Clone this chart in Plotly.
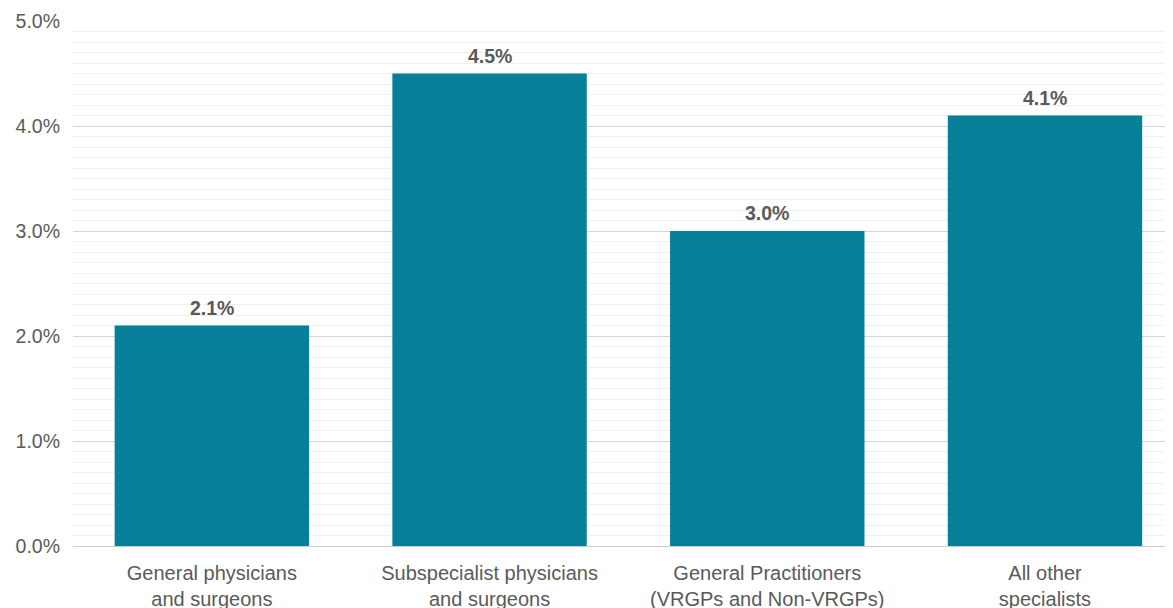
import plotly.graph_objects as go

categories = ["General physicians<br>and surgeons",
              "Subspecialist physicians<br>and surgeons",
              "General Practitioners<br>(VRGPs and Non-VRGPs)",
              "All other<br>specialists"]
values = [2.1, 4.5, 3.0, 4.1]
y_ticks = [0, 1, 2, 3, 4, 5]
y_tick_labels = ["0.0%", "1.0%", "2.0%", "3.0%", "4.0%", "5.0%"]

BAR = "#067f98"
TXT = "#5a5a5a"
FONT = "Liberation Sans, Arial, Helvetica, sans-serif"
FS = 19.5

fig = go.Figure(go.Bar(x=list(range(len(categories))), y=values,
                       marker=dict(color=BAR, line=dict(width=0)),
                       width=0.7, hoverinfo="skip"))

for i, v in enumerate(values):
    fig.add_annotation(x=i, y=v, text=f"<b>{v:.1f}%</b>", showarrow=False,
                       yanchor="bottom", yshift=5,
                       font=dict(family=FONT, size=FS, color=TXT))

fig.update_layout(
    width=1165, height=600,
    margin=dict(l=65, r=0, t=13, b=62, autoexpand=False),
    paper_bgcolor="white", plot_bgcolor="white",
    showlegend=False,
    font=dict(family=FONT, size=FS, color=TXT),
    xaxis=dict(tickmode="array", tickvals=list(range(len(categories))),
               ticktext=categories, range=[-0.5, 3.461],
               showgrid=False, zeroline=False, showline=False, automargin=False,
               ticks="outside", ticklen=9, tickcolor="rgba(0,0,0,0)",
               tickfont=dict(family=FONT, size=20, color=TXT)),
    yaxis=dict(range=[0, 5], tickmode="array", tickvals=y_ticks,
               ticktext=y_tick_labels, automargin=False,
               showgrid=True, gridcolor="#d4d4d4", gridwidth=1,
               zeroline=True, zerolinecolor="#cccccc", zerolinewidth=1,
               showline=False, ticks="", ticklabelstandoff=12,
               minor=dict(dtick=0.1, showgrid=True, gridcolor="#f0f0f0", gridwidth=1),
               tickfont=dict(family=FONT, size=FS, color=TXT)),
)

fig.write_html("out.html")
